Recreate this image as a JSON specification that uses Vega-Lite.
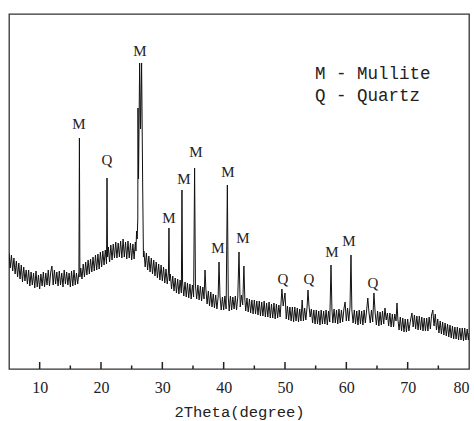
{
"$schema":"https://vega.github.io/schema/vega-lite/v6.json",
"width":460,"height":355,
"autosize":{"type":"none"},
"padding":{"left":9,"top":14,"right":5,"bottom":52},
"background":"white",
"config":{"view":{"stroke":"#333","strokeWidth":1.3},"font":"Liberation Mono"},
"layer":[
{"data":{"values":[
{"t":5.0,"i":116},{"t":5.2,"i":101},{"t":5.4,"i":114},{"t":5.6,"i":98},{"t":5.8,"i":111},{"t":6.0,"i":95},{"t":6.2,"i":108},{"t":6.4,"i":92},{"t":6.6,"i":106},{"t":6.8,"i":90},
{"t":7.0,"i":104},{"t":7.2,"i":87},{"t":7.4,"i":102},{"t":7.6,"i":88},{"t":7.8,"i":99},{"t":8.0,"i":85},{"t":8.2,"i":99},{"t":8.4,"i":83},{"t":8.6,"i":97},{"t":8.8,"i":84},
{"t":9.0,"i":96},{"t":9.2,"i":81},{"t":9.4,"i":98},{"t":9.6,"i":82},{"t":9.8,"i":94},{"t":10.0,"i":80},{"t":10.2,"i":95},{"t":10.4,"i":83},{"t":10.6,"i":97},{"t":10.8,"i":82},
{"t":11.0,"i":96},{"t":11.2,"i":84},{"t":11.4,"i":99},{"t":11.6,"i":83},{"t":11.8,"i":97},{"t":12.0,"i":103},{"t":12.2,"i":84},{"t":12.4,"i":99},{"t":12.6,"i":85},{"t":12.8,"i":97},
{"t":13.0,"i":83},{"t":13.2,"i":98},{"t":13.4,"i":84},{"t":13.6,"i":96},{"t":13.8,"i":82},{"t":14.0,"i":99},{"t":14.2,"i":85},{"t":14.4,"i":97},{"t":14.6,"i":84},{"t":14.8,"i":96},
{"t":15.0,"i":82},{"t":15.2,"i":98},{"t":15.4,"i":83},{"t":15.6,"i":99},{"t":15.8,"i":84},{"t":16.0,"i":96},{"t":16.2,"i":85},{"t":16.4,"i":97},{"t":16.48,"i":231},{"t":16.56,"i":92},
{"t":16.7,"i":101},{"t":16.9,"i":90},{"t":17.1,"i":105},{"t":17.3,"i":92},{"t":17.5,"i":107},{"t":17.7,"i":94},{"t":17.9,"i":109},{"t":18.1,"i":95},{"t":18.3,"i":110},{"t":18.5,"i":97},
{"t":18.7,"i":112},{"t":18.9,"i":98},{"t":19.1,"i":114},{"t":19.3,"i":99},{"t":19.5,"i":115},{"t":19.7,"i":100},{"t":19.9,"i":117},{"t":20.1,"i":102},{"t":20.3,"i":118},{"t":20.5,"i":104},
{"t":20.7,"i":119},{"t":20.9,"i":105},{"t":20.98,"i":191},{"t":21.06,"i":112},{"t":21.2,"i":122},{"t":21.4,"i":107},{"t":21.6,"i":124},{"t":21.8,"i":109},{"t":22.0,"i":125},{"t":22.2,"i":111},
{"t":22.4,"i":127},{"t":22.6,"i":111},{"t":22.8,"i":126},{"t":23.0,"i":112},{"t":23.2,"i":128},{"t":23.4,"i":111},{"t":23.6,"i":130},{"t":23.8,"i":112},{"t":24.0,"i":127},{"t":24.2,"i":110},
{"t":24.4,"i":128},{"t":24.6,"i":111},{"t":24.8,"i":126},{"t":25.0,"i":109},{"t":25.2,"i":125},{"t":25.4,"i":110},{"t":25.6,"i":127},{"t":25.7,"i":118},{"t":25.8,"i":138},{"t":25.9,"i":130},
{"t":26.0,"i":150},{"t":26.03,"i":261},{"t":26.12,"i":190},{"t":26.3,"i":306},{"t":26.45,"i":240},{"t":26.62,"i":306},{"t":26.8,"i":180},{"t":26.92,"i":112},{"t":27.0,"i":118},{"t":27.2,"i":102},
{"t":27.4,"i":116},{"t":27.6,"i":99},{"t":27.8,"i":113},{"t":28.0,"i":97},{"t":28.2,"i":111},{"t":28.4,"i":95},{"t":28.6,"i":109},{"t":28.8,"i":93},{"t":29.0,"i":107},{"t":29.2,"i":91},
{"t":29.4,"i":105},{"t":29.6,"i":89},{"t":29.8,"i":104},{"t":30.0,"i":88},{"t":30.2,"i":102},{"t":30.4,"i":86},{"t":30.6,"i":100},{"t":30.8,"i":85},{"t":31.0,"i":97},{"t":31.08,"i":141},
{"t":31.16,"i":88},{"t":31.3,"i":95},{"t":31.5,"i":80},{"t":31.7,"i":93},{"t":31.9,"i":78},{"t":32.1,"i":91},{"t":32.3,"i":76},{"t":32.5,"i":90},{"t":32.7,"i":75},{"t":32.9,"i":89},
{"t":33.1,"i":76},{"t":33.2,"i":179},{"t":33.3,"i":87},{"t":33.5,"i":73},{"t":33.7,"i":87},{"t":33.9,"i":72},{"t":34.1,"i":86},{"t":34.3,"i":71},{"t":34.5,"i":85},{"t":34.7,"i":70},
{"t":34.9,"i":84},{"t":35.1,"i":72},{"t":35.26,"i":201},{"t":35.4,"i":84},{"t":35.6,"i":70},{"t":35.8,"i":84},{"t":36.0,"i":69},{"t":36.2,"i":83},{"t":36.4,"i":68},{"t":36.6,"i":82},
{"t":36.8,"i":70},{"t":36.96,"i":99},{"t":37.1,"i":80},{"t":37.3,"i":65},{"t":37.5,"i":78},{"t":37.7,"i":63},{"t":37.9,"i":77},{"t":38.1,"i":62},{"t":38.3,"i":75},{"t":38.5,"i":61},
{"t":38.7,"i":74},{"t":38.9,"i":60},{"t":39.1,"i":72},{"t":39.24,"i":107},{"t":39.4,"i":73},{"t":39.6,"i":59},{"t":39.8,"i":72},{"t":40.0,"i":59},{"t":40.2,"i":73},{"t":40.4,"i":60},
{"t":40.6,"i":184},{"t":40.75,"i":72},{"t":40.9,"i":58},{"t":41.1,"i":73},{"t":41.3,"i":59},{"t":41.5,"i":72},{"t":41.7,"i":60},{"t":41.9,"i":73},{"t":42.1,"i":59},{"t":42.3,"i":72},
{"t":42.5,"i":117},{"t":42.7,"i":62},{"t":42.9,"i":74},{"t":43.1,"i":64},{"t":43.3,"i":103},{"t":43.45,"i":70},{"t":43.6,"i":58},{"t":43.8,"i":71},{"t":44.0,"i":57},{"t":44.2,"i":70},
{"t":44.4,"i":56},{"t":44.6,"i":69},{"t":44.8,"i":55},{"t":45.0,"i":69},{"t":45.2,"i":55},{"t":45.4,"i":68},{"t":45.6,"i":54},{"t":45.8,"i":68},{"t":46.0,"i":53},{"t":46.2,"i":67},
{"t":46.4,"i":53},{"t":46.6,"i":68},{"t":46.8,"i":52},{"t":47.0,"i":66},{"t":47.2,"i":52},{"t":47.4,"i":67},{"t":47.6,"i":51},{"t":47.8,"i":65},{"t":48.0,"i":51},{"t":48.2,"i":66},
{"t":48.4,"i":50},{"t":48.6,"i":65},{"t":48.8,"i":51},{"t":49.0,"i":64},{"t":49.2,"i":52},{"t":49.5,"i":80},{"t":49.7,"i":63},{"t":50.0,"i":76},{"t":50.2,"i":50},{"t":50.4,"i":63},
{"t":50.6,"i":49},{"t":50.8,"i":62},{"t":51.0,"i":48},{"t":51.2,"i":62},{"t":51.4,"i":47},{"t":51.6,"i":62},{"t":51.8,"i":48},{"t":52.0,"i":61},{"t":52.2,"i":47},{"t":52.4,"i":60},
{"t":52.6,"i":48},{"t":52.8,"i":69},{"t":53.0,"i":48},{"t":53.2,"i":61},{"t":53.4,"i":49},{"t":53.6,"i":62},{"t":53.75,"i":79},{"t":53.9,"i":64},{"t":54.1,"i":52},{"t":54.3,"i":60},
{"t":54.5,"i":46},{"t":54.7,"i":59},{"t":54.9,"i":45},{"t":55.1,"i":59},{"t":55.3,"i":45},{"t":55.5,"i":58},{"t":55.7,"i":44},{"t":55.9,"i":59},{"t":56.1,"i":45},{"t":56.3,"i":58},
{"t":56.5,"i":45},{"t":56.7,"i":59},{"t":56.9,"i":44},{"t":57.1,"i":58},{"t":57.3,"i":47},{"t":57.5,"i":104},{"t":57.65,"i":60},{"t":57.8,"i":46},{"t":58.0,"i":60},{"t":58.2,"i":46},
{"t":58.4,"i":59},{"t":58.6,"i":45},{"t":58.8,"i":60},{"t":59.0,"i":46},{"t":59.2,"i":59},{"t":59.4,"i":47},{"t":59.6,"i":60},{"t":59.8,"i":67},{"t":60.0,"i":48},{"t":60.2,"i":61},
{"t":60.4,"i":48},{"t":60.6,"i":62},{"t":60.76,"i":114},{"t":60.9,"i":59},{"t":61.1,"i":46},{"t":61.3,"i":59},{"t":61.5,"i":45},{"t":61.7,"i":58},{"t":61.9,"i":44},{"t":62.1,"i":59},
{"t":62.3,"i":45},{"t":62.5,"i":58},{"t":62.7,"i":44},{"t":62.9,"i":59},{"t":63.1,"i":46},{"t":63.3,"i":58},{"t":63.5,"i":71},{"t":63.7,"i":56},{"t":63.9,"i":46},{"t":64.1,"i":59},
{"t":64.3,"i":47},{"t":64.5,"i":76},{"t":64.7,"i":56},{"t":64.9,"i":44},{"t":65.1,"i":58},{"t":65.3,"i":43},{"t":65.5,"i":57},{"t":65.7,"i":44},{"t":65.9,"i":58},{"t":66.1,"i":45},
{"t":66.3,"i":61},{"t":66.5,"i":49},{"t":66.7,"i":56},{"t":66.9,"i":43},{"t":67.1,"i":56},{"t":67.3,"i":42},{"t":67.5,"i":55},{"t":67.7,"i":42},{"t":67.9,"i":55},{"t":68.1,"i":48},
{"t":68.26,"i":66},{"t":68.4,"i":50},{"t":68.6,"i":39},{"t":68.8,"i":52},{"t":69.0,"i":38},{"t":69.2,"i":51},{"t":69.4,"i":37},{"t":69.6,"i":50},{"t":69.8,"i":37},{"t":70.0,"i":50},
{"t":70.2,"i":38},{"t":70.5,"i":50},{"t":70.7,"i":56},{"t":70.9,"i":42},{"t":71.1,"i":54},{"t":71.3,"i":40},{"t":71.5,"i":53},{"t":71.7,"i":39},{"t":71.9,"i":53},{"t":72.1,"i":39},
{"t":72.3,"i":52},{"t":72.5,"i":38},{"t":72.7,"i":51},{"t":72.9,"i":38},{"t":73.1,"i":51},{"t":73.3,"i":38},{"t":73.5,"i":52},{"t":73.7,"i":40},{"t":73.9,"i":54},{"t":74.1,"i":59},
{"t":74.3,"i":43},{"t":74.5,"i":55},{"t":74.7,"i":39},{"t":74.9,"i":50},{"t":75.1,"i":36},{"t":75.3,"i":48},{"t":75.5,"i":35},{"t":75.7,"i":47},{"t":75.9,"i":34},{"t":76.1,"i":46},
{"t":76.3,"i":33},{"t":76.5,"i":45},{"t":76.7,"i":32},{"t":76.9,"i":44},{"t":77.1,"i":31},{"t":77.3,"i":43},{"t":77.5,"i":30},{"t":77.7,"i":42},{"t":77.9,"i":30},{"t":78.1,"i":42},
{"t":78.3,"i":29},{"t":78.5,"i":41},{"t":78.7,"i":29},{"t":78.9,"i":41},{"t":79.1,"i":28},{"t":79.3,"i":41},{"t":79.5,"i":29},{"t":79.7,"i":40},{"t":79.9,"i":29},{"t":80.0,"i":36}
]},
"mark":{"type":"line","color":"#111","strokeWidth":1,"clip":true},
"encoding":{
"x":{"field":"t","type":"quantitative","scale":{"domain":[5,80],"nice":false,"zero":false},
"axis":{"values":[10,20,30,40,50,60,70,80],"ticks":false,"tickSize":0,
"domain":false,"grid":false,"labelFlush":true,
"labelFont":"Liberation Serif","labelFontSize":16,"labelColor":"#222","labelPadding":10,
"title":"2Theta(degree)","titleFont":"Liberation Mono","titleFontSize":15.5,"titleFontWeight":"normal","titleColor":"#222","titlePadding":9}},
"y":{"field":"i","type":"quantitative","scale":{"domain":[0,355],"nice":false,"zero":true},"axis":null}}},
{"data":{"values":[{"t":10},{"t":20},{"t":30},{"t":40},{"t":50},{"t":60},{"t":70}]},
"mark":{"type":"rule","color":"#222","strokeWidth":1.5},
"encoding":{"x":{"field":"t","type":"quantitative"},"y":{"datum":0},"y2":{"datum":7}}},
{"data":{"values":[{"t":15},{"t":25},{"t":35},{"t":45},{"t":55},{"t":65},{"t":75}]},
"mark":{"type":"rule","color":"#222","strokeWidth":1.5},
"encoding":{"x":{"field":"t","type":"quantitative"},"y":{"datum":0},"y2":{"datum":3.5}}},
{"data":{"values":[
{"t":16.41,"i":245,"lab":"M"},{"t":20.98,"i":209,"lab":"Q"},{"t":26.36,"i":318,"lab":"M"},{"t":31.09,"i":151,"lab":"M"},{"t":33.53,"i":190,"lab":"M"},
{"t":35.49,"i":217,"lab":"M"},{"t":39.08,"i":121,"lab":"M"},{"t":40.71,"i":197,"lab":"M"},{"t":43.15,"i":131,"lab":"M"},{"t":49.67,"i":90,"lab":"Q"},
{"t":53.91,"i":90,"lab":"Q"},{"t":57.66,"i":117,"lab":"M"},{"t":60.44,"i":128,"lab":"M"},{"t":64.35,"i":86,"lab":"Q"}]},
"mark":{"type":"text","font":"Liberation Serif","fontSize":15,"baseline":"middle","color":"#222"},
"encoding":{"x":{"field":"t","type":"quantitative"},"y":{"field":"i","type":"quantitative"},"text":{"field":"lab"}}},
{"data":{"values":[{"t":54.89,"i":295,"lab":"M - Mullite"},{"t":54.89,"i":273,"lab":"Q - Quartz"}]},
"mark":{"type":"text","font":"Liberation Mono","fontSize":17.5,"align":"left","baseline":"middle","color":"#222"},
"encoding":{"x":{"field":"t","type":"quantitative"},"y":{"field":"i","type":"quantitative"},"text":{"field":"lab"}}}
]
}
